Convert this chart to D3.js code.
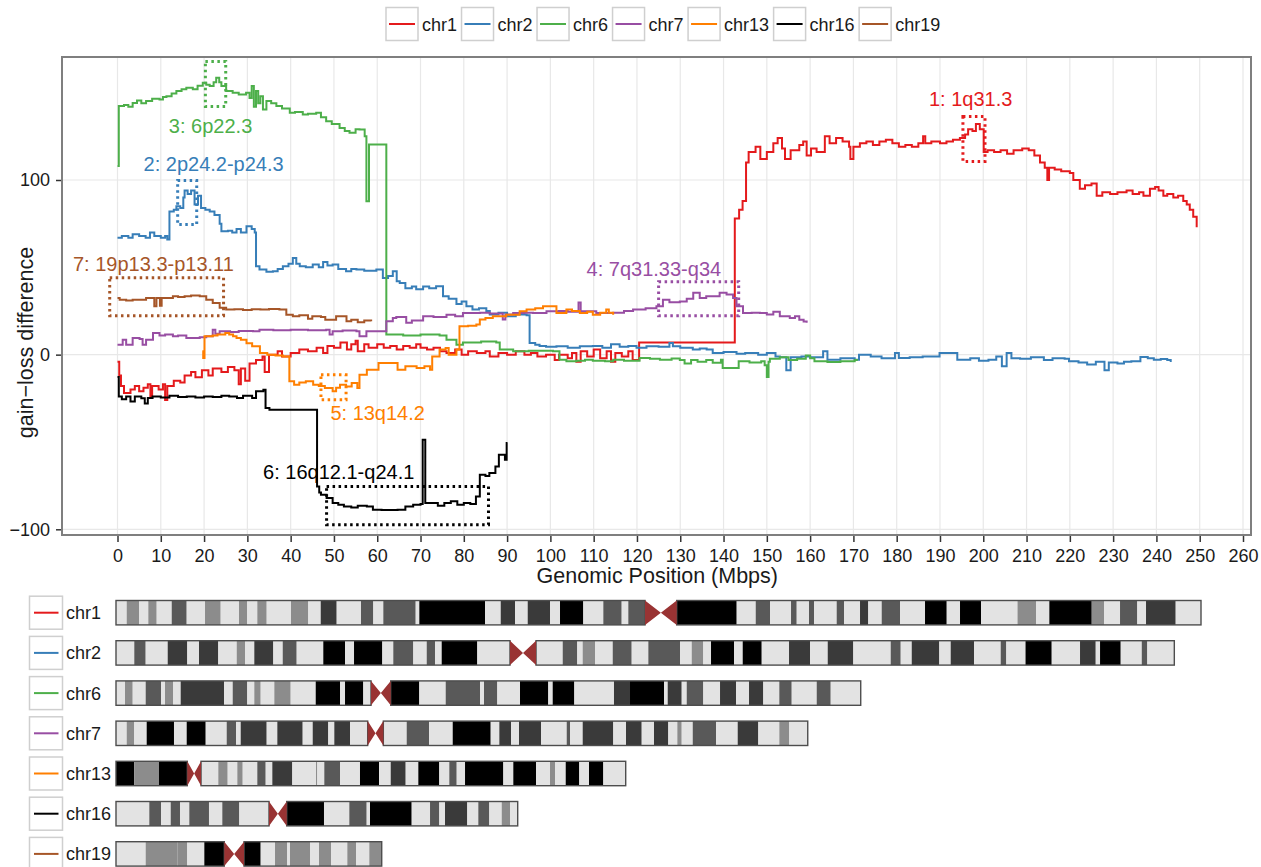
<!DOCTYPE html>
<html><head><meta charset="utf-8">
<script src="https://cdnjs.cloudflare.com/ajax/libs/d3/7.8.5/d3.min.js"></script>
<style>body{margin:0;background:#fff;} svg{font-family:"Liberation Sans",Arial,Helvetica,sans-serif;display:block;}</style>
</head><body><svg id="c" width="1261" height="867"></svg>
<script>
// ---------- data ----------
const chromosomes = ["chr1","chr2","chr6","chr7","chr13","chr16","chr19"];
const colors = ["#E41A1C","#377EB8","#4DAF4A","#984EA3","#FF7F00","#000000","#A65628"];
const xTicks = d3.range(0, 261, 10);
const yTicks = [-100, 0, 100];
const xTitle = "Genomic Position (Mbps)";
const yTitle = "gain\u2212loss difference";

// [position (Mbps), gain-loss difference]
const chr1 = [[0,-4],[0.4,-12],[0.8,-18],[1.5,-22],[3,-20],[4,-18],[5,-21],[6,-19],[7,-17],[7.6,-24],[8,-18],[9.5,-20],[10.5,-17],[11,-26],[11.5,-18],[13,-15],[14.5,-16],[15.5,-12],[17,-10],[18,-13],[19.5,-9],[21,-12],[22,-8],[24,-10],[25.5,-7],[27,-9],[28,-17],[28.5,-8],[29.5,-15],[30.5,-5],[32,-3],[33.5,-1],[34,-10],[35,0],[37,2],[38,-1],[40,1],[42,3],[44,2],[46,4],[47.5,1],[48.5,5],[50,4],[51.5,7],[53,3],[54,6],[55,8],[55.5,2],[57,6],[58,4],[60,6],[61.5,4],[63,5],[64.5,3],[66,5],[67.5,4],[69,6],[70,4],[71.5,3],[73,4],[74.5,2],[76,1],[78,3],[79.5,0],[81,2],[83,1],[85,2],[86,-1],[88,1],[90,0],[92,2],[94,0],[95.5,1],[97,-1],[99,0],[101,-3],[102,0],[104,-2],[105,1],[106,-4],[107,2],[108.5,-1],[110,3],[111.5,-2],[113,2],[114,-4],[115,1],[116.5,-1],[118,2],[119,-3],[120.5,7],[142.6,78],[143.6,83],[144.4,88],[145.2,110],[145.8,116],[147.4,119],[148.5,112],[150,116],[151.5,121],[152.5,124],[153.5,118],[154.2,112],[155.5,117],[157.5,120],[158.4,122],[159.2,114],[160.2,118],[161.5,116],[163.4,125],[164.5,121],[166,124],[167.5,122],[169,119],[169.3,112],[170,119],[171.5,121],[173,122],[174.5,120],[176,122],[177.5,123],[179,121],[180.5,119],[182,120],[183.5,119],[185,121],[186.1,125],[186.6,121],[188,122],[190,121],[191.5,122],[193,123],[194.6,124],[195.8,126],[196.5,129],[197.5,128],[198.3,132],[199.2,129],[200.1,116],[201,117],[202.5,116],[204,117],[205.5,115],[207,117],[209,118],[210.5,117],[211.8,114],[213.1,110],[214.2,107],[214.8,100],[215.2,107],[216.5,106],[218,105],[220,104],[220.8,100],[222.3,95],[223.5,97],[225,98],[226.2,91],[227.5,93],[229.3,92],[231,93],[233.1,94],[234.5,92],[236,93],[237,91],[238.5,95],[239.7,96],[240.5,94],[241.6,91],[242.5,92],[243.9,90],[245,91],[246.2,88],[247,86],[247.7,83],[248.5,79],[249.3,73]];
const chr2 = [[0,67],[1,68],[2.5,67],[3.5,69],[5,68],[6.5,67],[7.5,70],[8.5,68],[10,67],[11,68],[11.5,66],[12,82],[13,83],[13.6,85],[14.5,84],[15.2,90],[15.5,94],[16.2,92],[17,94],[17.8,86],[18.6,91],[19.3,84],[20.3,83],[21.3,82],[22.4,80],[23.6,75],[24,70.6],[25.5,71],[26.5,70],[27.5,72],[28.5,70],[29.8,73.5],[31,72],[31.7,70],[32,50.6],[32.8,48.7],[34.4,47.5],[35.9,47.7],[37,49],[38.2,50.6],[39.5,52],[40.5,55.4],[41.3,52],[42.1,50.6],[43.5,50],[45.1,51.6],[46.5,50],[47.5,53],[48.5,51],[49.7,51.6],[51,49],[52.8,47.7],[54,49],[55.2,48.7],[57,48],[59.8,48.7],[61.3,43.9],[62.5,45],[63.6,47.7],[64.5,42],[65.2,41],[66.5,38],[68,39],[69,37.5],[70.6,39],[72,38],[73.6,39.1],[75.2,33.4],[76.5,32],[78.3,29],[79.5,30.5],[80.6,27.7],[82,25.8],[83.5,26.5],[85.2,25],[86,23],[88,24],[90,22],[92,23],[94.5,22.5],[95.2,6.7],[96.5,5.7],[97.5,5],[99,4.5],[101.4,4.8],[104,4],[106.8,4.8],[109.8,5],[112,4],[114,6],[116,4.5],[118,5],[119.9,4],[122.2,4.8],[125,4.5],[127.5,6.7],[128.3,4.8],[130,4],[132.9,2.9],[134.5,3.5],[136.1,2.9],[137.5,1],[140,1.5],[143,0.5],[145,1],[148,0],[150,1],[152,-1],[153,-1.5],[154.5,-9],[155.5,-1.5],[158,-1],[160,-1.5],[163,1.9],[164,-2.9],[167,-2],[170.3,-2.9],[171.3,0],[174,-1],[176.5,-2],[179.6,1],[180.5,-1.9],[183,-1.5],[186,-1],[189.9,1],[193,1],[194,-2.9],[197,-2],[199,-3.5],[201.2,-2.9],[203,-1],[204.3,-6.7],[205.4,1],[206.5,-2],[208.5,-2.4],[211,-1.5],[214,-3],[216,-2],[218.8,-2.4],[219.8,-3.8],[222,-4.5],[224,-5.7],[226,-4],[228,-9],[229,-4.5],[231,-5],[232.5,-4],[234.2,-3.8],[236.3,-1.3],[238,-2],[239.4,-2.9],[241,-2.5],[242.5,-3],[243.3,-4.2]];
const chr6 = [[0,108],[0.3,142.3],[1.5,143],[2.5,142],[3.5,144.1],[4.5,145.5],[5.5,144],[6.6,145.2],[8,146.5],[9.7,146.1],[10.5,147.5],[11.3,148],[12.5,149.5],[13.6,150.9],[14.8,152],[15.9,152.8],[17.4,151.9],[18.5,154],[19.7,155.7],[20.5,154.5],[21.3,153.8],[22.2,156],[22.8,158.5],[23.5,156],[24,153.8],[25.1,150.9],[26.6,149.9],[28,149],[29.7,149.9],[30.5,147],[31,153.8],[31.5,142],[32,151],[32.5,144],[33,148],[33.6,140.4],[34.4,145.2],[35.5,144],[36.7,142.3],[38,141],[39.8,138.5],[41,139],[42.8,137.5],[44,138],[45.9,138.5],[47,136],[48.2,133.7],[49.5,132],[51.3,129.8],[52.5,128],[53.6,127],[55,129],[55.9,128.9],[57.1,125.1],[57.5,87.9],[58.1,120.3],[62.1,11.5],[66,11],[70,11.5],[74.4,11],[76,8.6],[78.3,5.7],[79.8,7],[84,7.5],[87.5,7],[88.3,2.9],[91.4,1.9],[95,2.2],[100.6,1.9],[102.1,-2.9],[103.7,-3.8],[106,-3.5],[108,-2.9],[109.8,-3.5],[112.6,-3.8],[114.5,-2.9],[117,-3.5],[120.6,-1.9],[123,-2.4],[125.3,-2.9],[128,-2.2],[129.9,-3],[131,-5],[132.5,-3],[134,-4],[136,-3],[137.5,-4.6],[139.4,-2.9],[139.8,-7.6],[143.5,-3.8],[146,-4.5],[148.7,-3.8],[149.5,-6],[150,-12.8],[150.4,-4],[150.7,-2.4],[153,-1.5],[155,-3],[157,-2.4],[159,-0.5],[160,-2],[161,-3.8],[164,-4.2],[167,-3.8],[170.3,-3],[170.8,-2.5]];
const chr7 = [[0,5.7],[1.2,8.6],[2,5.7],[3.5,9.6],[5.1,9],[5.8,5.7],[6.6,8.6],[8.2,12.4],[9.7,10.9],[11,11.5],[12.8,10.5],[14,11],[15.9,9.6],[19,10],[20.5,10.5],[22,14.3],[22.6,12],[23.6,13.4],[26,13],[28,13.5],[31.3,13.4],[32.8,14.3],[36,14],[40,14.3],[44,14],[48.2,14.3],[49,11.5],[49.7,13.4],[52,13.8],[55.2,13.4],[55.9,10.5],[57.5,13.4],[62.1,19.1],[63.6,21],[64.4,21.5],[66.7,18.2],[68,19.5],[70.6,22],[73,21.5],[76,22.9],[78,22],[79.8,23.9],[83.7,24],[86,23.5],[89,20.1],[89.6,23],[91.4,23.9],[94,24],[96,23.9],[99.1,24.8],[102,25],[104,24.5],[106.5,29.8],[107,24.8],[110.6,23.9],[114.5,24],[117,25],[119.1,25.8],[122,26.5],[124.5,27.7],[126,31.5],[127.5,30],[129.9,30.5],[131.5,32],[133,35.4],[134.5,32.5],[136,33.5],[137.6,33.4],[139.1,35.4],[140.7,34.4],[142.2,32.5],[143,27.7],[144.5,23.9],[146.5,24],[148.4,23.9],[150,23],[151.5,24.5],[153,22],[155.3,21],[156.5,22],[157.5,20],[158.5,19],[159.2,18.2]];
const chr13 = [[19.6,1.9],[19.8,-1.9],[20.1,10.5],[20.9,10.5],[22,11],[23.1,11.5],[24.9,12.4],[25.8,11.5],[26.7,10.5],[27.5,9.5],[28.5,8.6],[29.8,6.5],[31.1,4.8],[32.9,1],[34.6,0],[36.5,-0.5],[38.2,-1],[39.7,-15.3],[40.8,-17.2],[42,-16],[43.5,-15.3],[45.2,-17.2],[46.5,-18],[47.9,-19.1],[49.7,-21],[50.5,-19],[51.4,-17.2],[52.8,-18.2],[54.1,-16.2],[55.4,-19.1],[55.9,-11.5],[57.6,-8.6],[59.9,-8.6],[60.3,-4.8],[63,-4.8],[64.7,-8.6],[66.5,-6.7],[69.1,-7.6],[70.9,-6.7],[72.2,-8.6],[72.7,-1],[74.4,2.9],[75.8,3.8],[76.5,0],[78.3,2.9],[79,16.2],[81,16.5],[82.9,17.2],[83.7,20.1],[85,21],[86.7,22],[89.8,22.9],[91.4,22.9],[92.9,24.8],[94.5,25.8],[96.5,26.5],[98.3,27.7],[99.8,27.7],[101.4,23.9],[103.7,25.8],[105,25],[106.8,23.9],[108.5,24.5],[109.8,22.9],[111.5,24],[112.9,25.8],[113.5,24],[114.5,22.9]];
const chr16 = [[0,-12.8],[0.3,-23.9],[1,-25.5],[2,-24],[3,-26.8],[4,-24],[5.5,-25],[6.3,-28],[7,-24.8],[8.1,-23.9],[10,-24.5],[12,-23.5],[14,-24.2],[16,-23.9],[18,-24.5],[20,-23.9],[22,-24.2],[24,-23.5],[25.8,-24],[27.6,-24.8],[29,-23.5],[31.1,-24.8],[32,-21],[33.7,-20.1],[34.2,-30.6],[35.1,-31.5],[46.1,-75.5],[46.6,-79],[47,-80.2],[48.3,-82.1],[49.7,-85],[51,-86],[52.3,-86.9],[54,-87.5],[55.5,-86.5],[57.6,-86.9],[59,-88.8],[61,-89],[64.7,-88.8],[66.5,-86.9],[68.3,-86],[70,-85.5],[70.5,-48.7],[71.1,-85],[72.7,-85],[74,-86.5],[75.5,-85],[77,-84],[78.5,-86],[80,-85],[81.5,-85.5],[82.8,-81.2],[83.7,-68.8],[85,-69.5],[85.9,-67.8],[87.3,-64],[88.1,-57.3],[89.5,-60.2],[89.9,-50.6],[90.1,-50.6]];
const chr19 = [[0,32.5],[0.5,31.5],[2,31],[3.5,31.5],[5.1,31.5],[6.6,32.5],[8.1,32.5],[8.5,27.7],[9,32.5],[9.8,28],[10.2,32.5],[11.3,32.5],[12.8,33.4],[14,33],[15.5,33.4],[17,33.8],[19,33.4],[20.5,31.5],[22,29.6],[23.6,26.8],[25.1,25.8],[27,26],[29,25.5],[31,26],[33,25.8],[35,26.2],[37.4,25.8],[39,22.9],[40.5,22],[42,22.5],[44,20.5],[45,22],[47,21.5],[48,20],[50.5,22],[52.9,19.1],[54,20],[55.5,18.5],[57,19.5],[58.6,19.1]];
const series = [chr1, chr2, chr6, chr7, chr13, chr16, chr19];

// annotations: [label, series index, x0, x1, y0, y1, labelX, labelY]
const annotations = [
  ["1: 1q31.3", 0, 195.3, 200.4, 110.6, 136.4, 197.1, 146.7],
  ["2: 2p24.2-p24.3", 1, 13.9, 18.3, 74.5, 99.7, 22.2, 109.5],
  ["3: 6p22.3", 2, 20.3, 25.0, 142.1, 167.9, 21.5, 131.2],
  ["4: 7q31.33-q34", 3, 125.0, 143.5, 22.3, 41.8, 123.9, 49.3],
  ["5: 13q14.2", 4, 47.0, 52.8, -25.8, -11.5, 60.1, -33.2],
  ["6: 16q12.1-q24.1", 5, 48.3, 85.7, -97.4, -75.5, 51.1, -67.0],
  ["7: 19p13.3-p13.11", 6, -1.8, 24.5, 22.3, 44.1, 8.3, 52.1]
];

// cytobands: [band end (Mbps), stain]; each band starts where the previous ends
const bands1 = [[2.46,"gneg"],[5.35,"g25"],[7.42,"gneg"],[9.35,"g25"],[12.80,"gneg"],[16.24,"g50"],[20.45,"gneg"],[24.05,"g25"],[28.26,"gneg"],[30.16,"g25"],[32.46,"gneg"],[34.62,"g25"],[40.20,"gneg"],[44.18,"g25"],[47.03,"gneg"],[50.70,"g75"],[56.28,"gneg"],[59.11,"g50"],[61.41,"gneg"],[68.85,"g50"],[69.68,"gneg"],[84.77,"g100"],[88.38,"gneg"],[91.66,"g75"],[94.58,"gneg"],[99.70,"g75"],[102.0,"gneg"],[107.35,"g100"],[111.95,"gneg"],[116.17,"g50"],[117.69,"gneg"],[121.53,"g50"],[128.81,"acen"],[142.59,"g100"],[146.96,"gneg"],[150.24,"g50"],[155.07,"gneg"],[156.38,"g50"],[159.20,"gneg"],[160.35,"g50"],[165.56,"gneg"],[167.24,"g50"],[170.92,"gneg"],[172.82,"g75"],[175.90,"gneg"],[180.11,"g50"],[185.85,"gneg"],[190.84,"g100"],[193.89,"gneg"],[198.72,"g100"],[207.10,"gneg"],[211.35,"g25"],[214.41,"gneg"],[224.15,"g100"],[226.97,"g25"],[230.65,"gneg"],[234.62,"g50"],[236.62,"gneg"],[243.44,"g75"],[249.25,"gneg"]];
const bands2 = [[4.20,"gneg"],[6.82,"g50"],[11.88,"gneg"],[16.38,"g75"],[19.07,"gneg"],[23.50,"g75"],[27.73,"gneg"],[29.64,"g25"],[31.77,"gneg"],[36.14,"g75"],[38.30,"gneg"],[41.51,"g50"],[47.62,"gneg"],[52.61,"g100"],[54.68,"gneg"],[61.18,"g100"],[63.70,"gneg"],[68.30,"g50"],[71.38,"gneg"],[73.28,"g50"],[74.82,"gneg"],[83.00,"g100"],[90.51,"gneg"],[96.49,"acen"],[102.62,"gneg"],[105.97,"g50"],[107.21,"gneg"],[110.04,"g25"],[114.11,"gneg"],[118.47,"g50"],[122.29,"gneg"],[129.57,"g50"],[132.26,"gneg"],[134.92,"g25"],[136.69,"gneg"],[141.97,"g100"],[143.97,"gneg"],[148.34,"g100"],[154.61,"gneg"],[159.43,"g75"],[163.50,"gneg"],[169.38,"g75"],[177.97,"gneg"],[180.27,"g50"],[182.80,"gneg"],[189.14,"g75"],[191.75,"gneg"],[197.11,"g75"],[203.24,"gneg"],[204.53,"g50"],[208.94,"gneg"],[214.96,"g100"],[221.46,"gneg"],[225.07,"g75"],[226.06,"gneg"],[230.81,"g100"],[235.64,"gneg"],[236.92,"g50"],[243.12,"gneg"]];
const bands6 = [[2.07,"gneg"],[3.84,"g25"],[6.82,"gneg"],[10.34,"g50"],[11.26,"gneg"],[13.16,"g25"],[14.86,"gneg"],[24.81,"g75"],[26.81,"gneg"],[30.16,"g50"],[31.77,"gneg"],[33.24,"g25"],[36.37,"gneg"],[40.13,"g25"],[45.88,"gneg"],[51.46,"g100"],[52.61,"gneg"],[56.81,"g100"],[58.58,"gneg"],[63.11,"acen"],[69.68,"g100"],[75.74,"gneg"],[83.62,"g50"],[84.54,"gneg"],[87.60,"g50"],[92.81,"gneg"],[99.31,"g100"],[100.32,"gneg"],[105.29,"g100"],[114.40,"gneg"],[118.08,"g75"],[125.89,"g100"],[126.74,"gneg"],[129.96,"g75"],[131.11,"gneg"],[134.92,"g50"],[138.76,"gneg"],[142.43,"g75"],[145.42,"gneg"],[148.70,"g75"],[152.38,"gneg"],[155.23,"g50"],[160.97,"gneg"],[164.19,"g50"],[171.08,"gneg"]];
const bands7 = [[2.46,"gneg"],[4.20,"g25"],[7.05,"gneg"],[13.32,"g100"],[16.24,"gneg"],[20.61,"g100"],[25.43,"gneg"],[27.57,"g50"],[28.65,"gneg"],[34.62,"g75"],[37.06,"gneg"],[42.89,"g75"],[45.19,"gneg"],[48.77,"g75"],[50.15,"gneg"],[53.76,"g75"],[57.82,"gneg"],[61.41,"acen"],[66.78,"gneg"],[71.91,"g50"],[77.35,"gneg"],[86.08,"g100"],[88.06,"gneg"],[90.74,"g75"],[92.58,"gneg"],[97.64,"g75"],[103.54,"gneg"],[104.30,"g50"],[107.21,"gneg"],[114.24,"g75"],[117.16,"gneg"],[120.77,"g75"],[123.59,"gneg"],[126.88,"g75"],[128.95,"gneg"],[129.96,"g25"],[132.49,"gneg"],[137.84,"g50"],[142.82,"gneg"],[147.56,"g75"],[152.38,"gneg"],[154.68,"g25"],[158.91,"gneg"]];
const bands13 = [[4.20,"g100"],[9.88,"g25"],[16.38,"g100"],[19.53,"acen"],[23.50,"gneg"],[25.66,"g25"],[27.87,"gneg"],[29.11,"g25"],[32.46,"gneg"],[34.39,"g50"],[35.91,"gneg"],[40.50,"g75"],[45.95,"gneg"],[46.25,"g25"],[47.85,"gneg"],[51.46,"g50"],[56.05,"gneg"],[60.42,"g100"],[63.11,"gneg"],[66.55,"g75"],[69.45,"gneg"],[74.27,"g100"],[76.57,"gneg"],[78.27,"g50"],[80.18,"gneg"],[88.98,"g100"],[91.27,"gneg"],[96.49,"g100"],[99.70,"gneg"],[100.85,"g25"],[103.31,"gneg"],[106.43,"g100"],[108.66,"gneg"],[111.95,"g100"],[117.09,"gneg"]];
const bands16 = [[7.65,"gneg"],[10.34,"g50"],[12.57,"gneg"],[14.70,"g50"],[16.84,"gneg"],[21.36,"g50"],[24.42,"gneg"],[28.33,"g50"],[35.15,"gneg"],[39.22,"acen"],[47.78,"g100"],[53.60,"gneg"],[57.59,"g50"],[58.35,"gneg"],[67.93,"g100"],[72.14,"gneg"],[74.27,"g50"],[75.58,"gneg"],[80.70,"g75"],[83.23,"gneg"],[85.76,"g50"],[88.61,"gneg"],[90.51,"g25"],[92.28,"gneg"]];
const bands19 = [[6.82,"gneg"],[14.08,"g25"],[16.38,"g25"],[20.29,"gneg"],[24.88,"g100"],[29.41,"acen"],[33.24,"g100"],[36.53,"gneg"],[39.35,"g25"],[39.97,"gneg"],[44.57,"g25"],[46.64,"gneg"],[49.39,"g25"],[53.14,"gneg"],[55.14,"g25"],[58.19,"gneg"],[61.04,"g25"]];
const ideograms = [bands1, bands2, bands6, bands7, bands13, bands16, bands19];
const stainColors = {gneg:"#e3e3e3", g25:"#8c8c8c", g50:"#595959", g75:"#3a3a3a", g100:"#000000", acen:"#993333"};

// ---------- drawing ----------
const svg = d3.select("#c");
const P = {l: 62, r: 1251, t: 57, b: 535};
const x = d3.scaleLinear().domain([0, 260]).range([117.5, 1243]);
const y = d3.scaleLinear().domain([-100, 100]).range([529.3, 180]);

// panel background + grid
svg.append("rect").attr("x", P.l).attr("y", P.t).attr("width", P.r - P.l).attr("height", P.b - P.t).attr("fill", "#fff");
const grid = svg.append("g");
grid.selectAll("line.gx").data(xTicks).join("line").attr("class","gx")
  .attr("x1", d => x(d)).attr("x2", d => x(d)).attr("y1", P.t).attr("y2", P.b)
  .attr("stroke", "#e8e8e8").attr("stroke-width", 1.2);
grid.selectAll("line.gy").data(yTicks).join("line").attr("class","gy")
  .attr("x1", P.l).attr("x2", P.r).attr("y1", d => y(d)).attr("y2", d => y(d))
  .attr("stroke", "#e8e8e8").attr("stroke-width", 1.2);

// axes
const ax = svg.append("g").attr("transform", `translate(0,${P.b})`)
  .call(d3.axisBottom(x).tickValues(xTicks).tickSize(7).tickPadding(7));
const ay = svg.append("g").attr("transform", `translate(${P.l},0)`)
  .call(d3.axisLeft(y).tickValues(yTicks).tickSize(6).tickPadding(6).tickFormat(d => d < 0 ? "\u2212" + Math.abs(d) : d));
[ax, ay].forEach(g => {
  g.select(".domain").remove();
  g.selectAll(".tick line").attr("stroke", "#333").attr("stroke-width", 1.5);
  g.selectAll(".tick text").attr("fill", "#1a1a1a").style("font-size", "18px").style("font-family", "'Liberation Sans',Arial,sans-serif");
});

svg.append("text").attr("x", 657.3).attr("y", 583).attr("text-anchor", "middle")
  .style("font-size", "21.5px").attr("fill", "#1a1a1a").text(xTitle);
svg.append("text").attr("transform", "translate(33,342.5) rotate(-90)").attr("text-anchor", "middle")
  .style("font-size", "21.5px").attr("fill", "#1a1a1a").text(yTitle);

// lines
const line = d3.line().x(d => x(d[0])).y(d => y(d[1])).curve(d3.curveStepAfter);
svg.append("g").selectAll("path").data(series).join("path")
  .attr("d", line).attr("fill", "none")
  .attr("stroke", (d, i) => colors[i]).attr("stroke-width", 2);

// annotations
const ann = svg.append("g");
ann.selectAll("rect").data(annotations).join("rect")
  .attr("x", d => x(d[2])).attr("width", d => x(d[3]) - x(d[2]))
  .attr("y", d => y(d[5])).attr("height", d => y(d[4]) - y(d[5]))
  .attr("fill", "none").attr("stroke", d => colors[d[1]])
  .attr("stroke-width", 3).attr("stroke-dasharray", "2.5,3.5");
ann.selectAll("text").data(annotations).join("text")
  .attr("x", d => x(d[6])).attr("y", d => y(d[7])).attr("dy", "0.36em")
  .attr("text-anchor", "middle").style("font-size", "20px")
  .attr("fill", d => colors[d[1]]).text(d => d[0]);

// panel border
svg.append("rect").attr("x", P.l).attr("y", P.t).attr("width", P.r - P.l).attr("height", P.b - P.t)
  .attr("fill", "none").attr("stroke", "#7f7f7f").attr("stroke-width", 2);

// top legend
const leg = svg.append("g");
let lx = 386;
chromosomes.forEach((c, i) => {
  leg.append("rect").attr("x", lx).attr("y", 7.5).attr("width", 32).attr("height", 33)
    .attr("fill", "#fff").attr("stroke", "#cfcfcf").attr("stroke-width", 1.5);
  leg.append("line").attr("x1", lx + 3).attr("x2", lx + 29).attr("y1", 24).attr("y2", 24)
    .attr("stroke", colors[i]).attr("stroke-width", 2);
  const t = leg.append("text").attr("x", lx + 36).attr("y", 30.5).style("font-size", "18px").attr("fill", "#1a1a1a").text(c);
  lx += 36 + t.node().getComputedTextLength() + 4.5;
});

// ideograms
const xi = d3.scaleLinear().domain([0, 249.25]).range([116, 1201]);
const rowTop = d3.scaleLinear().domain([0, 6]).range([600.5, 841.7]);
const bh = 24.4;
ideograms.forEach((bands, i) => {
  const g = svg.append("g");
  const top = rowTop(i), mid = top + bh / 2;
  const items = bands.map((b, j) => ({s: j ? bands[j - 1][0] : 0, e: b[0], st: b[1]}));
  const cen = items.find(d => d.st === "acen");
  items.filter(d => d.st !== "acen").forEach(d => {
    g.append("rect").attr("x", xi(d.s)).attr("y", top).attr("width", xi(d.e) - xi(d.s)).attr("height", bh)
      .attr("fill", stainColors[d.st]);
  });
  const end = bands[bands.length - 1][0];
  // arm outlines
  g.append("rect").attr("x", xi(0)).attr("y", top).attr("width", xi(cen.s) - xi(0)).attr("height", bh)
    .attr("fill", "none").attr("stroke", "#4d4d4d").attr("stroke-width", 1.4);
  g.append("rect").attr("x", xi(cen.e)).attr("y", top).attr("width", xi(end) - xi(cen.e)).attr("height", bh)
    .attr("fill", "none").attr("stroke", "#4d4d4d").attr("stroke-width", 1.4);
  const cm = (xi(cen.s) + xi(cen.e)) / 2;
  g.append("path")
    .attr("d", `M${xi(cen.s)},${top}L${cm},${mid}L${xi(cen.s)},${top + bh}Z M${xi(cen.e)},${top}L${cm},${mid}L${xi(cen.e)},${top + bh}Z`)
    .attr("fill", stainColors.acen);
  // legend key
  g.append("rect").attr("x", 29.5).attr("y", mid - 16.5).attr("width", 33).attr("height", 33)
    .attr("fill", "#fff").attr("stroke", "#cfcfcf").attr("stroke-width", 1.5);
  g.append("line").attr("x1", 34).attr("x2", 58.5).attr("y1", mid).attr("y2", mid)
    .attr("stroke", colors[i]).attr("stroke-width", 2);
  g.append("text").attr("x", 66).attr("y", mid + 6.5).style("font-size", "18px").attr("fill", "#1a1a1a").text(chromosomes[i]);
});
</script>
</body></html>
